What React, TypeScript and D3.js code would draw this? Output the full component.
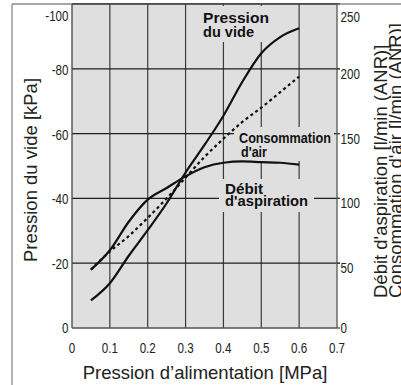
import React from 'react';
import * as d3 from 'd3';

// Supply pressure [MPa]
const pressures = [0.05, 0.1, 0.15, 0.2, 0.25, 0.3, 0.35, 0.4, 0.45, 0.5, 0.55, 0.6];
// Vacuum pressure [kPa] (left axis)
const vacuumKPa = [-8.5, -13.8, -22.3, -30.2, -38.5, -48, -56.5, -65.5, -76, -84.8, -89.8, -92.5];
// Suction flow [l/min (ANR)] (right axis)
const suctionFlow = [45, 60, 82, 99, 108, 117, 124, 127.5, 128.5, 128, 127.5, 126];
// Air consumption [l/min (ANR)] (right axis)
const airConsumption = [45, 59, 71, 85, 100, 116, 132, 146, 159, 170, 182, 194];

const xTicks = ['0', '0.1', '0.2', '0.3', '0.4', '0.5', '0.6', '0.7'];
const leftTicks = ['0', '-20', '-40', '-60', '-80', '-100'];
const rightTicks = ['0', '50', '100', '150', '200', '250'];

const W = 401;
const H = 385;
const L = 72, R = 337, T = 4, B = 328;
const BG = '#dfdfdf';
const SANS = '"Liberation Sans", Arial, sans-serif';
const NARROW_SCALE = 0.8;

export default function App() {
  const x = d3.scaleLinear().domain([0, 0.7]).range([L, R]);
  const yL = d3.scaleLinear().domain([0, -100]).range([B, T]);
  const yR = d3.scaleLinear().domain([0, 250]).range([B, T]);

  const lineL = d3.line<number>().x((_, i) => x(pressures[i])).y((d) => yL(d)).curve(d3.curveMonotoneX);
  const lineR = d3.line<number>().x((_, i) => x(pressures[i])).y((d) => yR(d)).curve(d3.curveMonotoneX);

  const leftOffset = (v: number) => (v === -100 ? 17 : v === 0 ? 5 : 6);
  const rightOffset = (v: number) => (v === 250 ? 18 : v === 0 ? 5 : 10);

  const narrow = (px: number, py: number) => `translate(${px},${py}) scale(${NARROW_SCALE},1)`;

  return (
    <svg width={W} height={H} style={{ position: 'absolute', left: 0, top: 0, background: '#fff' }}>
      {/* outer frame */}
      <line x1={12} y1={4} x2={W} y2={4} stroke="#8a8a8a" strokeWidth={1.3} />
      <line x1={12} y1={4} x2={12} y2={H} stroke="#8a8a8a" strokeWidth={1.3} />
      {/* plot background */}
      <rect x={L} y={T} width={R - L} height={B - T} fill={BG} />
      {/* vertical grid */}
      {xTicks.slice(1, -1).map((t) => (
        <line key={'v' + t} x1={x(+t)} x2={x(+t)} y1={T} y2={B} stroke="#3a3a3a" strokeWidth={1.2} />
      ))}
      {/* horizontal grid */}
      {leftTicks.slice(1, -1).map((t) => (
        <line key={'h' + t} x1={L} x2={R + 3} y1={yL(+t)} y2={yL(+t)} stroke="#1e1e1e" strokeWidth={1.2} />
      ))}
      {/* label backgrounds (halo) */}
      <rect x={198} y={6} width={75} height={36} fill={BG} />
      <rect x={234} y={127} width={100} height={34} fill={BG} />
      <rect x={219} y={179} width={95} height={33} fill={BG} />
      {/* plot border */}
      <line x1={L} x2={R} y1={T} y2={T} stroke="#333" strokeWidth={1.3} />
      <line x1={L} x2={L} y1={T} y2={B} stroke="#444" strokeWidth={1.3} />
      <line x1={L} x2={R} y1={B} y2={B} stroke="#555" strokeWidth={1.3} />
      <line x1={R} x2={R} y1={T} y2={B} stroke="#555" strokeWidth={1.3} />
      {rightTicks.map((t) => (
        <line key={'rt' + t} x1={R} x2={R + 3} y1={yR(+t)} y2={yR(+t)} stroke="#444" strokeWidth={1.2} />
      ))}

      {/* curves */}
      <path d={lineL(vacuumKPa) || ''} fill="none" stroke="#111" strokeWidth={2.2} />
      <path d={lineR(suctionFlow) || ''} fill="none" stroke="#111" strokeWidth={2.2} />
      <path d={lineR(airConsumption) || ''} fill="none" stroke="#111" strokeWidth={2.2} strokeDasharray="3,3" />

      {/* curve labels */}
      <g fontFamily={SANS} fontWeight="bold" fontSize={15.5} fill="#111">
        <text x={203} y={22.5} textLength={66} lengthAdjust="spacingAndGlyphs">Pression</text>
        <text x={203} y={37} textLength={51} lengthAdjust="spacingAndGlyphs">du vide</text>
        <text x={239} y={143} textLength={92} lengthAdjust="spacingAndGlyphs">Consommation</text>
        <text x={241} y={157} textLength={26} lengthAdjust="spacingAndGlyphs">d'air</text>
        <text x={225} y={194} textLength={38} lengthAdjust="spacingAndGlyphs">Débit</text>
        <text x={225} y={206} textLength={83} lengthAdjust="spacingAndGlyphs">d'aspiration</text>
      </g>

      {/* tick labels (condensed) */}
      <g fontFamily={SANS} fontSize={14.5} fill="#222">
        {leftTicks.map((t) => (
          <text key={'lt' + t} transform={narrow(68.5, yL(+t) + leftOffset(+t))} textAnchor="end">{t}</text>
        ))}
        {rightTicks.map((t) => (
          <text key={'rl' + t} transform={narrow(340.5, yR(+t) + rightOffset(+t))} textAnchor="start">{t}</text>
        ))}
        {xTicks.map((t) => (
          <text key={'xt' + t} transform={narrow(x(+t), 352.5)} textAnchor="middle">{t}</text>
        ))}
      </g>

      {/* axis titles */}
      <g fontFamily={SANS} fontSize={18.5} fill="#222">
        <text x={205} y={379} textAnchor="middle">Pression d’alimentation [MPa]</text>
        <text transform="translate(36.5,170) rotate(-90)" textAnchor="middle">Pression du vide [kPa]</text>
        <text transform="translate(386.5,298) rotate(-90)" textAnchor="start">Débit d'aspiration [l/min (ANR)]</text>
        <text transform="translate(401.5,298) rotate(-90)" textAnchor="start">Consommation d'air [l/min (ANR)]</text>
      </g>
    </svg>
  );
}
